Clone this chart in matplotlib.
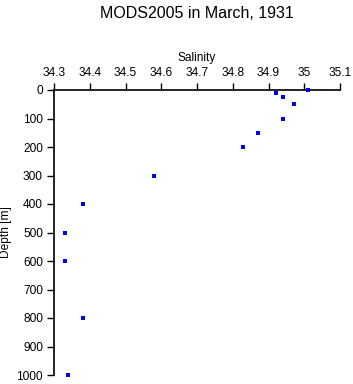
import matplotlib
matplotlib.use('Agg')
import matplotlib.pyplot as plt

# salinity / depth profile
salinity = [35.01, 34.92, 34.94, 34.97, 34.94, 34.87, 34.83, 34.58, 34.38, 34.33, 34.33, 34.38, 34.34]
depth = [0, 10, 25, 50, 100, 150, 200, 300, 400, 500, 600, 800, 1000]

x_ticks = [34.3, 34.4, 34.5, 34.6, 34.7, 34.8, 34.9, 35.0, 35.1]
x_labels = ['34.3', '34.4', '34.5', '34.6', '34.7', '34.8', '34.9', '35', '35.1']
y_ticks = [0, 100, 200, 300, 400, 500, 600, 700, 800, 900, 1000]

plt.rcParams['font.family'] = ['Liberation Sans', 'DejaVu Sans']

fig = plt.figure(figsize=(3.53, 3.84), dpi=100)
ax = fig.add_axes([54 / 353, 1 - 375 / 384, 286 / 353, 285 / 384])

ax.plot(salinity, depth, 's', color='blue', markersize=2.2, markeredgewidth=0, clip_on=False, zorder=5)

ax.set_xlim(34.3, 35.1)
ax.set_ylim(1000, 0)
ax.xaxis.tick_top()
ax.xaxis.set_label_position('top')
ax.set_xticks(x_ticks)
ax.set_xticklabels(x_labels)
ax.set_yticks(y_ticks)
ax.tick_params(axis='both', labelsize=8.6, length=5, width=1, direction='out', pad=3)
ax.spines['right'].set_visible(False)
ax.spines['bottom'].set_visible(False)
ax.spines['top'].set_linewidth(1.2)
ax.spines['left'].set_linewidth(1.2)
ax.set_xlabel('Salinity', fontsize=8.6, labelpad=4)
ax.set_ylabel('Depth [m]', fontsize=8.6, labelpad=3)

fig.text(197 / 353, 0.985, 'MODS2005 in March, 1931', fontsize=11.5, ha='center', va='top')

fig.savefig('out.png', dpi=100)
